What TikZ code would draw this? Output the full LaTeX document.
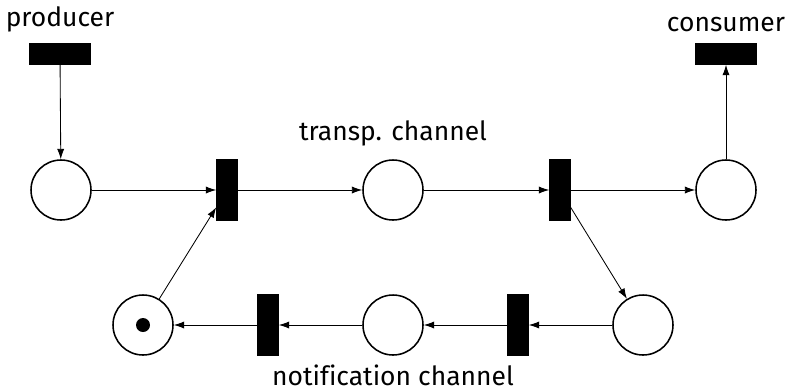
\documentclass[tikz,border=0pt]{standalone}
\usepackage{fontspec}
\setmainfont[Ligatures=NoCommon]{Fira Sans}
\usetikzlibrary{arrows.meta,positioning}

\begin{document}
\begin{tikzpicture}[
  x=0.025cm, y=-0.025cm, font=\fontsize{18.8}{22}\selectfont,
  place/.style={draw,circle,line width=1.1pt,minimum size=60*0.025cm,inner sep=0pt},
  vtrans/.style={fill,draw,minimum width=21*0.025cm,minimum height=61*0.025cm,inner sep=0pt},
  htrans/.style={fill,draw,minimum width=61*0.025cm,minimum height=21*0.025cm,inner sep=0pt},
  token/.style={fill,circle,minimum size=14*0.025cm,inner sep=0pt},
  ar/.style={-{Latex[length=2.6mm,width=1.8mm]},line width=0.6pt}
]
\useasboundingbox (0,0) rectangle (788,391);
% top row
\node[htrans] (prod) at (60,54) {};
\node[above=1.5mm of prod] (prodlbl) {producer};
\node[place] (p1) at (61,190) {};
\node[vtrans] (t1) at (227,190) {};
\node[place] (p2) at (393,190) {};
\node[above=2mm of p2] (p2lbl) {transp. channel};
\node[vtrans] (t2) at (560,190) {};
\node[place] (p3) at (726,190) {};
\node[htrans] (cons) at (726,54) {};
\node[above=1.5mm of cons] (conslbl) {consumer};
% bottom row
\node[place] (p4) at (643,325) {};
\node[vtrans] (t3) at (518,325) {};
\node[place] (p5) at (393,325) {};
\node[vtrans] (t4) at (268,325) {};
\node[place] (p6) at (143,325) {};
\node[token] (tok) at (p6) {};
\node[below=1mm of p5] (p5lbl) {notification channel};
\draw[ar](prod)--(p1);\draw[ar](p1)--(t1);\draw[ar](t1)--(p2);\draw[ar](p2)--(t2);
\draw[ar](t2)--(p3);\draw[ar](p3)--(cons);\draw[ar](t2)--(p4);\draw[ar](p4)--(t3);
\draw[ar](t3)--(p5);\draw[ar](p5)--(t4);\draw[ar](t4)--(p6);\draw[ar](p6)--(t1);
\end{tikzpicture}
\end{document}
